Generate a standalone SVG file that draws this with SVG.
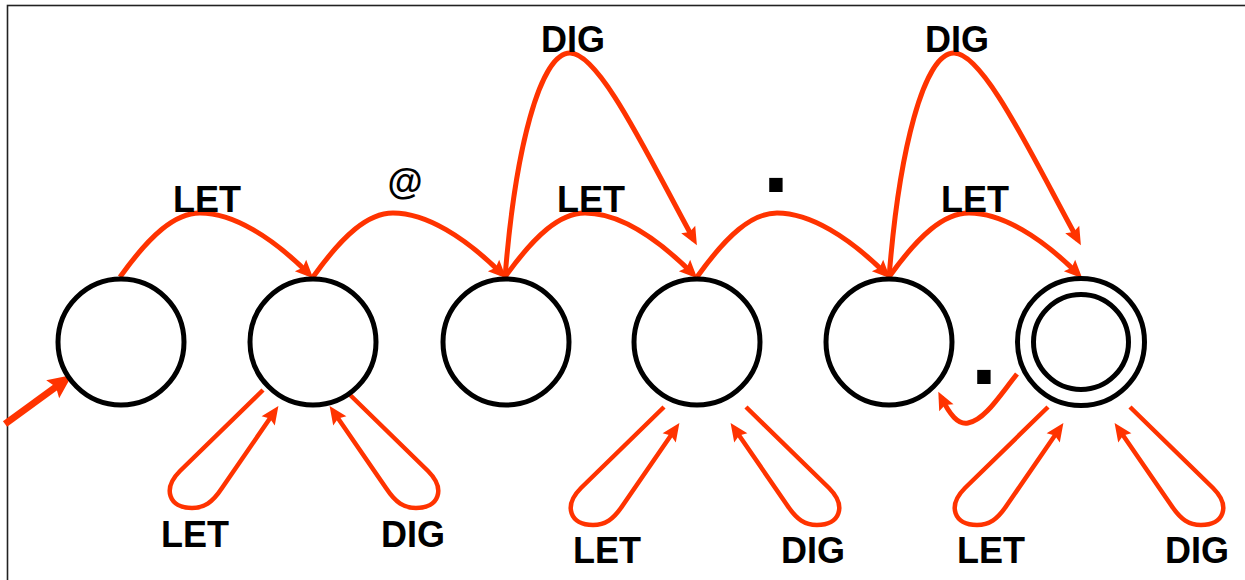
<svg xmlns="http://www.w3.org/2000/svg" width="1245" height="580" viewBox="0 0 1245 580">
  <style>
    .state { fill: #ffffff; stroke: #000000; stroke-width: 5; }
    .edge { fill: none; stroke: #ff3300; stroke-width: 5; marker-end: url(#ah); }
    .loop { fill: none; stroke: #ff3300; stroke-width: 4.5; marker-end: url(#ah); }
    .start { fill: none; stroke: #ff3300; stroke-width: 7; marker-end: url(#ahBig); }
    .lbl { font-family: "Liberation Sans", Arial, sans-serif; font-weight: bold; font-size: 36px; fill: #000000; text-anchor: middle; }
    .dot { font-family: "Liberation Sans", Arial, sans-serif; font-weight: bold; font-size: 95px; fill: #000000; text-anchor: middle; }
  </style>
  <defs>
    <marker id="ah" markerUnits="userSpaceOnUse" markerWidth="40" markerHeight="40" viewBox="-20 -20 40 40" refX="0" refY="0" orient="auto" overflow="visible">
      <path d="M6,0 L-12,-8 L-9,0 L-12,8 Z" fill="#ff3300"/>
    </marker>
    <marker id="ahBig" markerUnits="userSpaceOnUse" markerWidth="50" markerHeight="50" viewBox="-25 -25 50 50" refX="0" refY="0" orient="auto" overflow="visible">
      <path d="M10,0 L-14,-11 L-10,0 L-14,11 Z" fill="#ff3300"/>
    </marker>
    <!-- pair of self-loops hanging below a state, drawn around x = 0 -->
    <g id="loopPair">
      <path class="loop" d="M-41,407 L-124,488 C-142,506 -135,525 -112,525 C-100,525 -92,520 -82,505 L-29,428"/>
      <path class="loop" d="M41,407 L124,488 C142,506 135,525 112,525 C100,525 92,520 82,505 L29,428"/>
    </g>
  </defs>

  <rect x="7.5" y="5.5" width="1300" height="620" fill="#ffffff" stroke="#222222" stroke-width="1.6"/>

  <g id="connectors">
    <path class="start" d="M5,424 L64,381"/>
    <path class="edge" d="M120,277 C150,235 175,213 200,213 C233,213 272,237 309,274"/>
    <path class="edge" d="M313,277 C343,235 368,213 393,213 C426,213 465,237 502,274"/>
    <path class="edge" d="M505,277 C535,235 560,213 585,213 C618,213 656,237 693,274"/>
    <path class="edge" d="M697,277 C727,235 752,213 777,213 C810,213 849,237 886,274"/>
    <path class="edge" d="M889,277 C919,235 944,213 969,213 C1002,213 1041,237 1078,274"/>
    <path class="edge" d="M505,278 C515,150 540,53 570,53 C600,53 650,160 694,240"/>
    <path class="edge" d="M889,278 C899,150 924,53 954,53 C984,53 1034,160 1078,240"/>
    <path class="edge" d="M1017,374 C1000,395 985,420 968,423 C958,425 950,415 941,397"/>
    <use href="#loopPair" transform="translate(304,-17)"/>
    <use href="#loopPair" transform="translate(705,0)"/>
    <use href="#loopPair" transform="translate(1089,0)"/>
  </g>

  <g id="labels">
    <text class="lbl" x="207" y="212">LET</text>
    <text class="lbl" x="405" y="194">@</text>
    <text class="lbl" x="591" y="212">LET</text>
    <text class="dot" x="776" y="192">.</text>
    <text class="lbl" x="975" y="212">LET</text>
    <text class="lbl" x="573" y="52">DIG</text>
    <text class="lbl" x="957" y="52">DIG</text>
    <text class="dot" x="984" y="384">.</text>
    <text class="lbl" x="195" y="547">LET</text>
    <text class="lbl" x="413" y="547">DIG</text>
    <text class="lbl" x="607" y="563">LET</text>
    <text class="lbl" x="813" y="563">DIG</text>
    <text class="lbl" x="991" y="563">LET</text>
    <text class="lbl" x="1197" y="563">DIG</text>
  </g>

  <g id="s0"><circle class="state" cx="121" cy="342" r="63"/></g>
  <g id="s1"><circle class="state" cx="313" cy="342" r="63"/></g>
  <g id="s2"><circle class="state" cx="506" cy="342" r="63"/></g>
  <g id="s3"><circle class="state" cx="697" cy="342" r="63"/></g>
  <g id="s4"><circle class="state" cx="889" cy="342" r="63"/></g>
  <g id="s5">
    <circle class="state" cx="1081" cy="342" r="63.5"/>
    <circle class="state" cx="1081" cy="342" r="47.5"/>
  </g>
</svg>
